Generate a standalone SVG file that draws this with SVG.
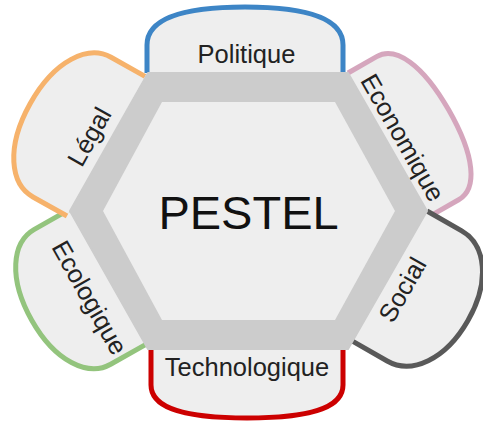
<svg xmlns="http://www.w3.org/2000/svg" width="483" height="425" viewBox="0 0 483 425">
<style>
.petal{fill:#eeeeee;stroke-width:5;stroke-linejoin:round}
.lbl{font-family:"Liberation Sans",Arial,sans-serif;font-size:25.5px;fill:#222;text-anchor:middle}
</style>
<rect width="483" height="425" fill="#ffffff"/>
<g id="politique">
<path class="petal" stroke="#3d85c6" transform="translate(147,73)" d="M0,0 V-28 C0,-50 24,-66 98,-66 C172,-66 196,-50 196,-28 V0"/>
<text class="lbl" x="246.5" y="63">Politique</text>
</g>
<g id="economique">
<path class="petal" stroke="#d5a6bd" transform="translate(348,73) rotate(60.2)" d="M0,0 V-33 C0,-55 30,-69 82,-69 C135,-69 165,-55 165,-33 V0"/>
<text class="lbl" transform="translate(395,142) rotate(60.2)">Economique</text>
</g>
<g id="social">
<path class="petal" stroke="#595959" transform="translate(427,211) rotate(119.8)" d="M0,0 V-40 C0,-68 30,-90 75,-90 C120,-90 150,-68 150,-40 V0"/>
<text class="lbl" transform="translate(410,294) rotate(-60.2)">Social</text>
</g>
<g id="technologique">
<path class="petal" stroke="#cc0000" transform="translate(343,349) rotate(180)" d="M0,0 V-36 C0,-56 24,-69 96,-69 C168,-69 192,-56 192,-36 V0"/>
<text class="lbl" x="247" y="376">Technologique</text>
</g>
<g id="ecologique">
<path class="petal" stroke="#93c47d" transform="translate(145.5,344.6) rotate(-119.5)" d="M0,0 V-40 C0,-66 30,-87 77,-87 C125,-87 155,-66 155,-40 V0"/>
<text class="lbl" transform="translate(82,302) rotate(60.5)">Ecologique</text>
</g>
<g id="legal">
<path class="petal" stroke="#f6b26b" transform="translate(67,216) rotate(-60.8)" d="M0,0 V-39 C0,-65 30,-87 80,-87 C130,-87 160,-65 160,-39 V0"/>
<text class="lbl" transform="translate(97,141) rotate(-60.8)">Légal</text>
</g>
<g id="pestel">
<polygon points="148,73 348,73 427,211 348,349 148,349 70,211" fill="#cccccc" stroke="#cccccc" stroke-width="2" stroke-linejoin="round"/>
<polygon points="162,102 335,102 395,211 335,320 162,320 103,211" fill="#eeeeee"/>
<text x="248.5" y="229" font-family="'Liberation Sans',Arial,sans-serif" font-size="47" fill="#111" text-anchor="middle">PESTEL</text>
</g>
</svg>
